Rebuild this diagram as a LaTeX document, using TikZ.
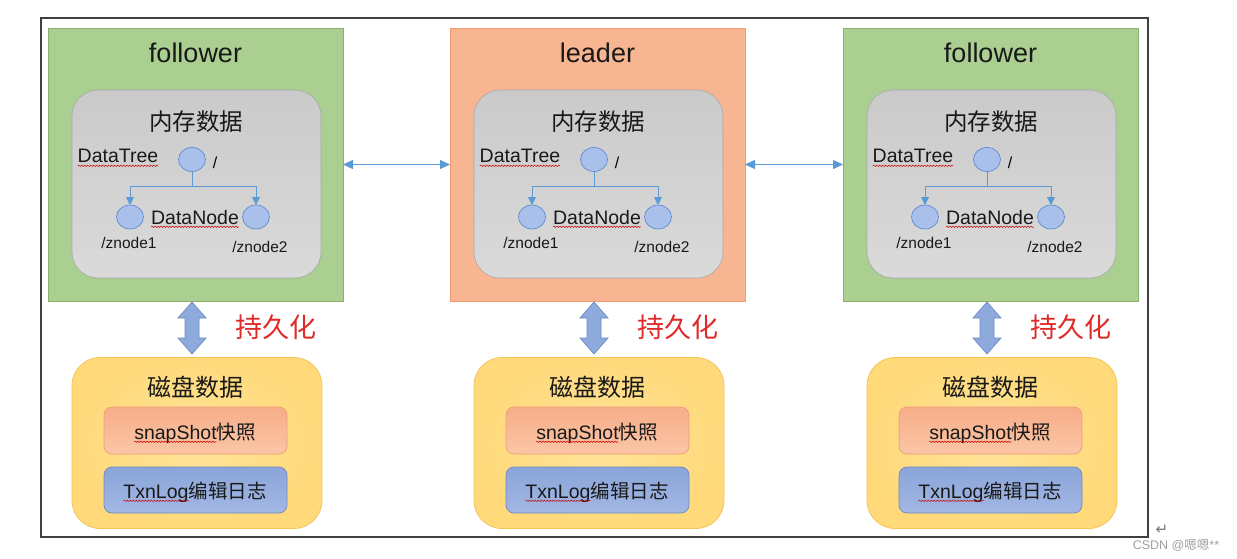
\documentclass[tikz,border=0pt]{standalone}
\usepackage{fontspec}
\setmainfont{Liberation Sans}
\newfontfamily\cjk{Noto Sans CJK SC}
\newfontfamily\symf{DejaVu Sans}
\usetikzlibrary{arrows.meta,shapes.geometric,decorations.pathmorphing,calc}
\definecolor{fgreen}{HTML}{AACF90}
\definecolor{dgreen}{HTML}{8AB26E}
\definecolor{lorange}{HTML}{F8B592}
\definecolor{dorange}{HTML}{F09B6E}
\definecolor{memtop}{HTML}{CACACA}
\definecolor{membot}{HTML}{DADADA}
\definecolor{memdraw}{HTML}{A8A8A8}
\definecolor{ellfill}{HTML}{A9C1EA}
\definecolor{elldraw}{HTML}{5E8BD0}
\definecolor{linkblue}{HTML}{5B9BD5}
\definecolor{diskfill}{HTML}{FFD97A}
\definecolor{diskin}{HTML}{FFE49A}
\definecolor{diskdraw}{HTML}{F4C252}
\definecolor{sstop}{HTML}{F7AD88}
\definecolor{ssbot}{HTML}{FAC6A6}
\definecolor{ssdraw}{HTML}{F09C74}
\definecolor{txtop}{HTML}{8BA5D9}
\definecolor{txbot}{HTML}{A2B7E3}
\definecolor{txdraw}{HTML}{6F89C2}
\definecolor{barrowfill}{HTML}{8EA9DB}
\definecolor{barrowdraw}{HTML}{6C8BC6}
\definecolor{persred}{HTML}{E02A2A}
\definecolor{framec}{HTML}{404040}
\definecolor{wmgray}{HTML}{A0A0A0}
\newcommand\sqw[1]{\tikz[baseline=(sqwn.base),x=1cm,y=1cm]{\node[inner sep=0pt,outer sep=0pt,anchor=base](sqwn) at (0,0){#1};\draw[red!80!black,line width=0.5pt,decorate,decoration={snake,amplitude=0.7pt,segment length=3pt}] ([yshift=-2.8pt]sqwn.base west)--([yshift=-2.8pt]sqwn.base east);}}
\begin{document}
\begin{tikzpicture}[x=1pt,y=-1pt,
  server/.style={rectangle,minimum width=295,minimum height=273,inner sep=0pt,outer sep=0pt,line width=0.9pt},
  membox/.style={rectangle,rounded corners=26pt,minimum width=249,minimum height=188,inner sep=0pt,outer sep=0pt,draw=memdraw,line width=0.6pt,top color=memtop,bottom color=membot},
  diskbox/.style={rectangle,rounded corners=28pt,minimum width=250,minimum height=171,inner sep=0pt,outer sep=0pt,draw=diskdraw,line width=0.7pt,inner color=diskin,outer color=diskfill},
  ssbox/.style={rectangle,rounded corners=8pt,minimum width=183,minimum height=47,inner sep=0pt,outer sep=0pt,draw=ssdraw,line width=0.7pt,top color=sstop,bottom color=ssbot},
  txbox/.style={rectangle,rounded corners=8pt,minimum width=183,minimum height=46,inner sep=0pt,outer sep=0pt,draw=txdraw,line width=0.7pt,top color=txtop,bottom color=txbot},
  tnode/.style={ellipse,minimum width=27,minimum height=24,inner sep=0pt,outer sep=0pt,fill=ellfill,draw=elldraw,line width=0.7pt},
  titletext/.style={anchor=base,inner sep=0pt,font=\fontsize{27}{30}\selectfont,text=black!90},
  cjkhead/.style={anchor=base,inner sep=0pt,font=\cjk\fontsize{23.5}{26}\selectfont,text=black!90},
  lbl/.style={anchor=base,inner sep=0pt,font=\fontsize{19.5}{22}\selectfont,text=black!90},
  smalllbl/.style={anchor=base,inner sep=0pt,font=\fontsize{15.5}{18}\selectfont,text=black!90},
  perstext/.style={anchor=base,inner sep=0pt,font=\cjk\fontsize{27}{30}\selectfont,text=persred},
  treelink/.style={draw=linkblue,line width=1pt},
  peerlink/.style={draw=linkblue,line width=1pt,{Triangle[length=10pt,width=9pt]}-{Triangle[length=10pt,width=9pt]}},
  blockarrow/.style={fill=barrowfill,draw=barrowdraw,line width=0.7pt,line join=miter}
]
\useasboundingbox[fill=white] (0,0) rectangle (1237,559);
\draw[framec,line width=1.1pt] (41,18) rectangle (1148,537);

\foreach \cid/\dx/\ti/\fc/\dc in {A/0/follower/fgreen/dgreen,B/402/leader/lorange/dorange,C/795/follower/fgreen/dgreen}{
\begin{scope}[xshift=\dx pt]
  \node[server,fill=\fc,draw=\dc] (\cid-srv) at (195.5,164.5) {};
  \node[titletext] (\cid-title) at (195.5,63) {\ti};
  \node[membox] (\cid-mem) at (196.5,184) {};
  \node[cjkhead] (\cid-memt) at (196,131) {内存数据};
  \node[lbl] (\cid-dt) at (118,163) {\sqw{DataTree}};
  \node[tnode] (\cid-root) at (192,159.5) {};
  \node[anchor=base,inner sep=0pt,font=\fontsize{16}{18}\selectfont] (\cid-slash) at (215,168) {/};
  \node[tnode] (\cid-c1) at (130,217) {};
  \node[tnode] (\cid-c2) at (256,217) {};
  \node[lbl] (\cid-dn) at (195,224) {\sqw{DataNode}};
  \node[smalllbl] (\cid-z1) at (129,248) {/znode1};
  \node[smalllbl] (\cid-z2) at (260,252) {/znode2};
  \coordinate (\cid-fork) at (192,186);
  \draw[treelink] (\cid-root.south) -- (\cid-fork);
  \draw[treelink,-{Triangle[length=8pt,width=8pt]}] (\cid-fork) -| (\cid-c1.north);
  \draw[treelink,-{Triangle[length=8pt,width=8pt]}] (\cid-fork) -| (\cid-c2.north);
  % block arrow
  \coordinate (\cid-bt) at (192,302);
  \coordinate (\cid-bb) at (192,354);
  \draw[blockarrow] (\cid-bt) -- ++(14,16) -- ++(-7,0) -- ++(0,20) -- ++(7,0) -- (\cid-bb) -- ++(-14,-16) -- ++(7,0) -- ++(0,-20) -- ++(-7,0) -- cycle;
  \node[perstext] (\cid-pers) at (276,337) {持久化};
  % disk
  \node[diskbox] (\cid-disk) at (197,443) {};
  \node[cjkhead,font=\cjk\fontsize{24}{26}\selectfont] (\cid-diskt) at (195,396.5) {磁盘数据};
  \node[ssbox] (\cid-ss) at (195.5,430.5) {};
  \node[lbl] (\cid-sst) at (195,439) {\sqw{snapShot}{\cjk 快照}};
  \node[txbox] (\cid-tx) at (195.5,490) {};
  \node[lbl] (\cid-txt) at (195,498) {\sqw{TxnLog}{\cjk 编辑日志}};
\end{scope}
}
\draw[peerlink] (A-srv.east) -- (B-srv.west);
\draw[peerlink] (B-srv.east) -- (C-srv.west);

% watermark
\node[anchor=base,inner sep=0pt,font=\symf\fontsize{15}{16}\selectfont,text=black!55] (wm-ret) at (1162,534) {↵};
\node[anchor=base,inner sep=0pt,font=\fontsize{12.5}{14}\selectfont,text=wmgray] (wm) at (1176,549) {CSDN @{\cjk 嗯嗯}**};
\end{tikzpicture}
\end{document}
